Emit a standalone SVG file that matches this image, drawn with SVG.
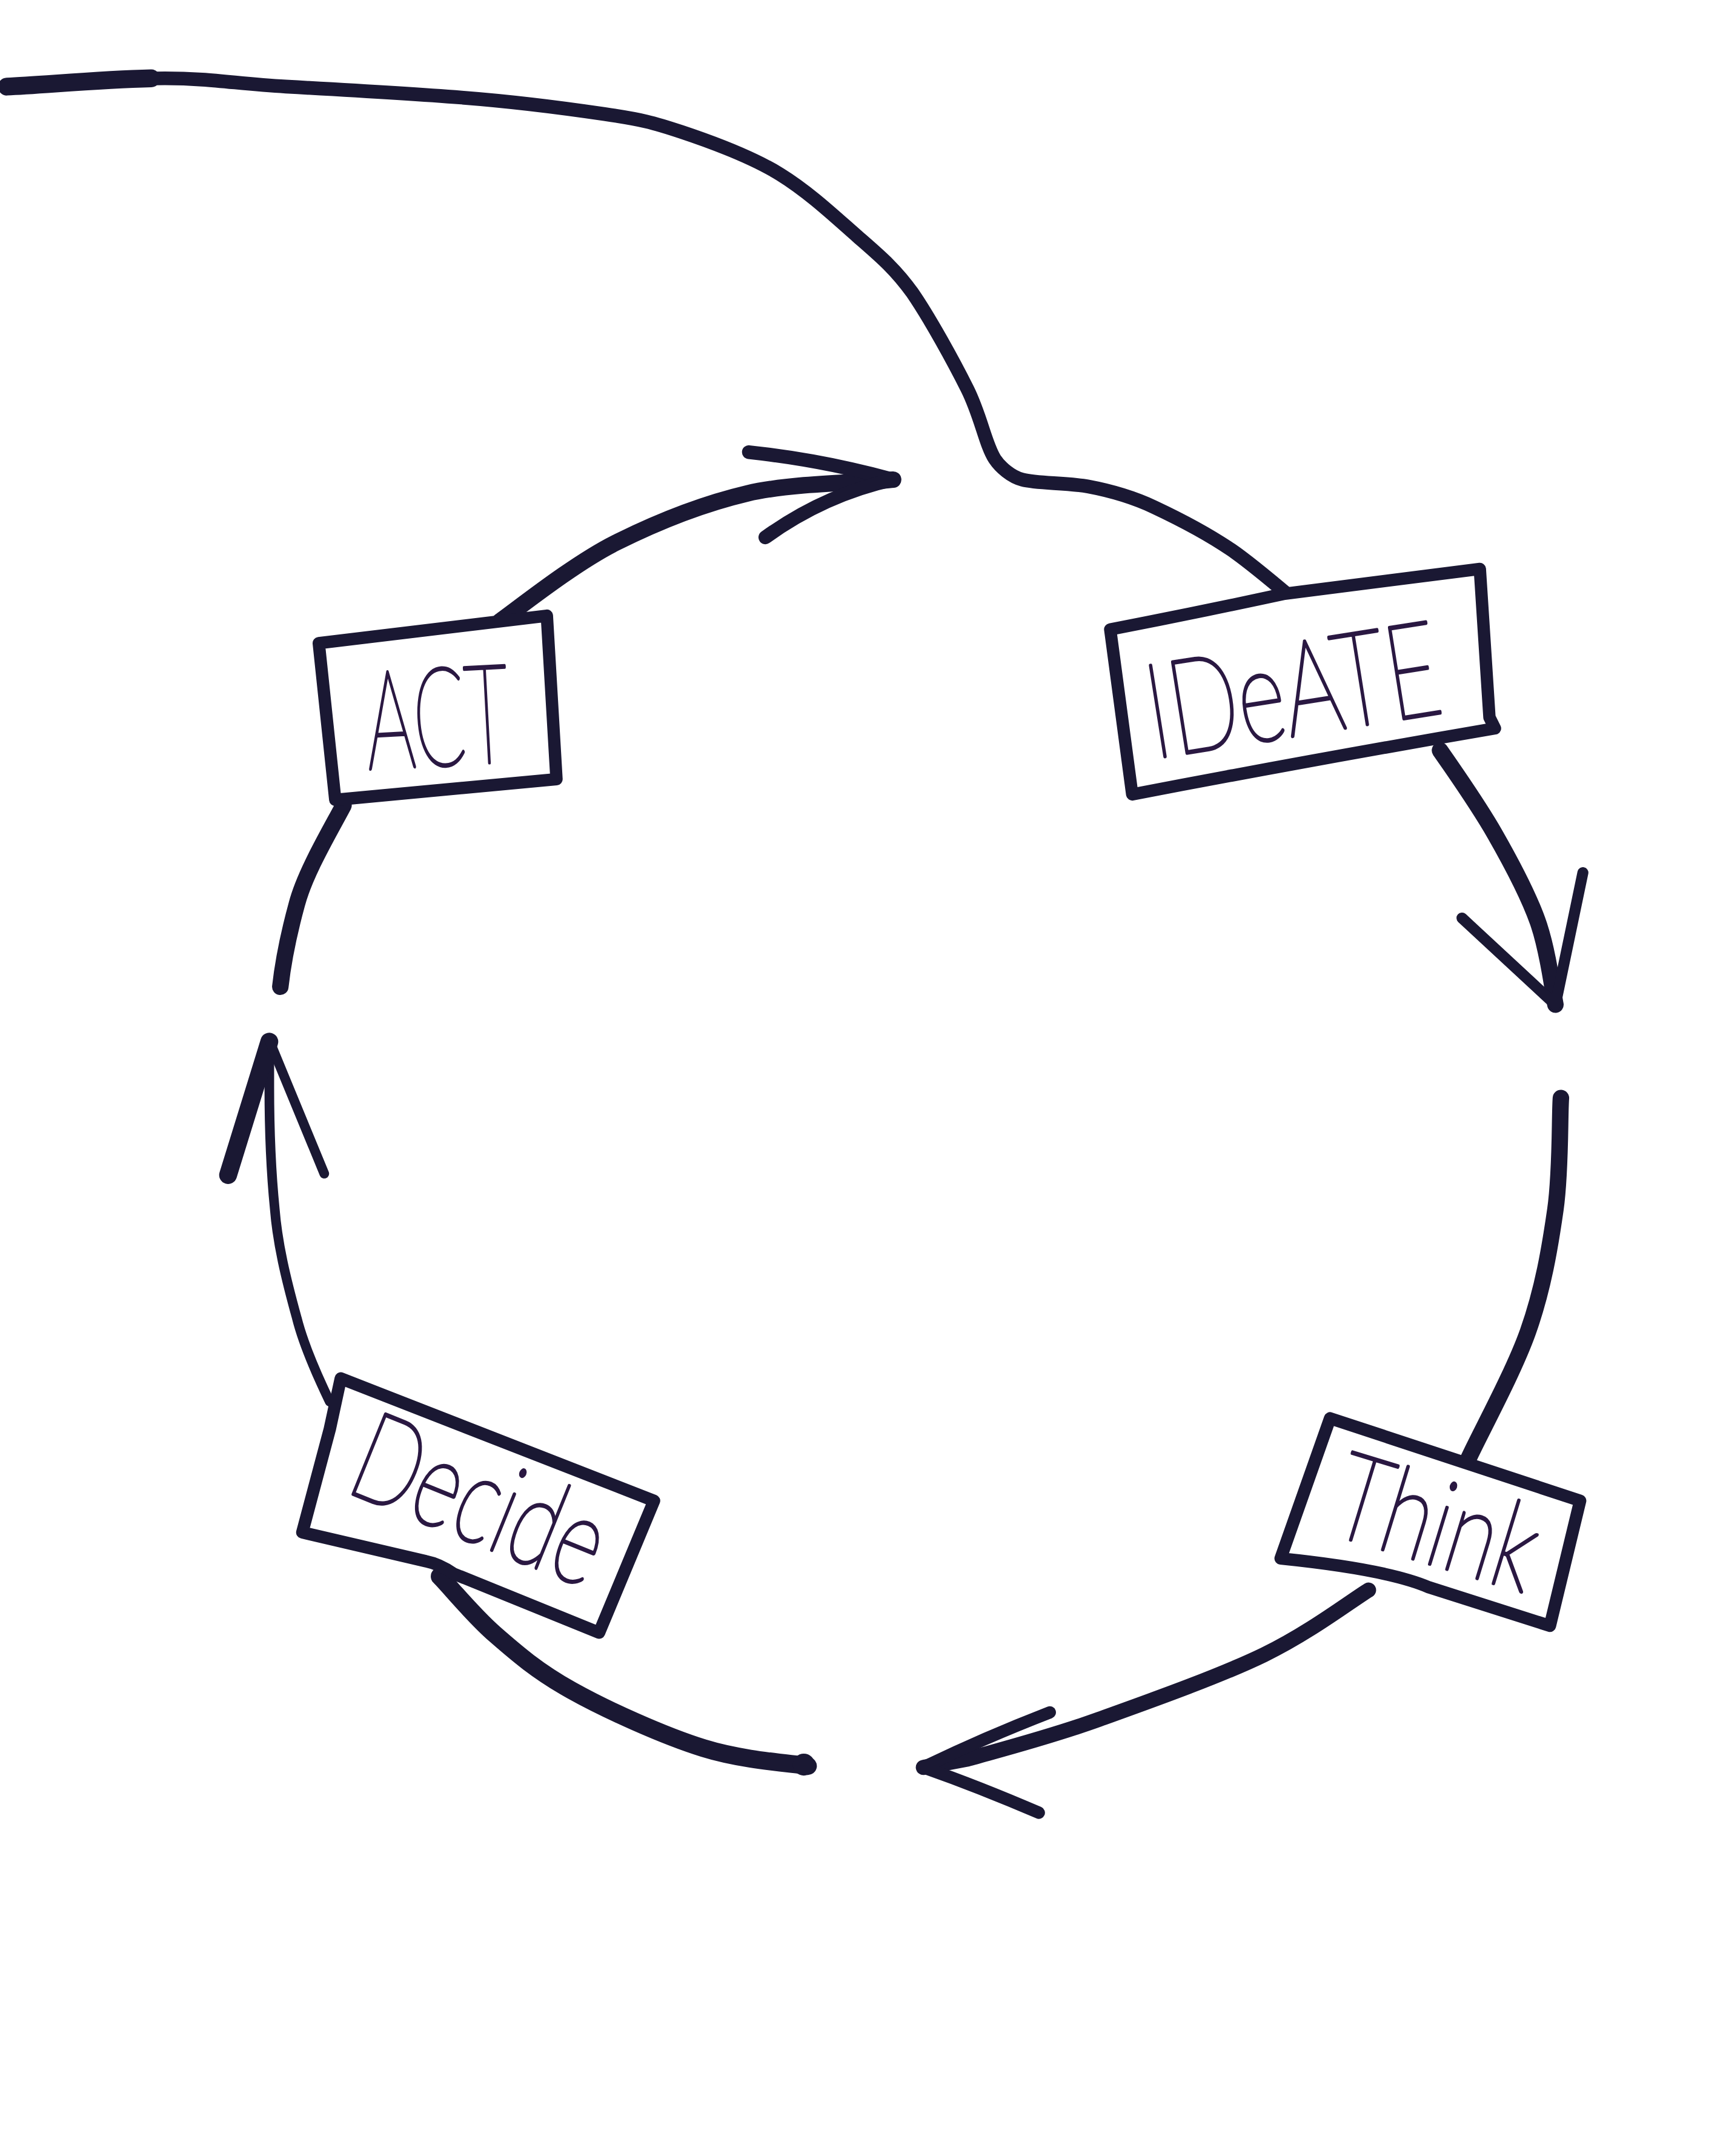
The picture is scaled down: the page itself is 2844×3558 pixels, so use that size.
<svg xmlns="http://www.w3.org/2000/svg" width="2844" height="3558" viewBox="0 0 2844 3558">
<style>
.ln{fill:none;stroke:#1a1833;stroke-linecap:round;stroke-linejoin:round}
.box{fill:#ffffff;stroke:#1a1833;stroke-width:9;stroke-linejoin:round}
.lbl{font-family:Lato,'Open Sans','DejaVu Sans',sans-serif;font-weight:200;fill:#2a1842;stroke:#2a1842;stroke-width:2.4;stroke-linejoin:round;text-anchor:middle}
</style>
<rect x="0" y="0" width="2844" height="3558" fill="#ffffff"/>
<g transform="scale(2.268)">
<g id="connectors">
<path class="ln" stroke-width="10" d="M4,63 C23,62 86,57 120,57 C154,57 172,61 208,63 C244,65 297,68 336,71 C375,74 413,79 440,83 C467,87 475,89 496,96 C517,103 547,114 568,127 C589,140 608,158 624,172 C640,186 651,195 664,213 C677,232 694,263 704,283 C714,303 717,323 724,334 C728,340 736,347 744,349 C755,352 776,351 792,354 C808,357 823,361 840,369 C857,377 877,387 896,400 C915,413 943,438 952,445"/>
<path class="ln" stroke-width="13" d="M5,63 C30,62 70,58 110,57"/>
<path class="ln" stroke-width="12" d="M364,452 C378,442 418,410 448,395 C478,380 510,367 544,359 C578,351 634,351 650,349"/>
<path class="ln" stroke-width="10" d="M545,329 Q600,335 650,349"/>
<path class="ln" stroke-width="10" d="M557,391 Q600,360 650,349"/>
<path class="ln" stroke-width="12" d="M1048,546 C1055,556 1076,586 1088,607 C1100,628 1113,652 1120,673 C1127,694 1130,721 1132,731"/>
<path class="ln" stroke-width="8" d="M1064,668 L1132,731 L1152,635"/>
<path class="ln" stroke-width="12" d="M1136,799 C1135,812 1136,852 1132,880 C1128,908 1123,938 1112,969 C1101,1000 1075,1047 1068,1063"/>
<path class="ln" stroke-width="11" d="M996,1157 C983,1165 953,1188 920,1204 C887,1220 836,1238 800,1251 C764,1264 725,1274 704,1280 L672,1286"/>
<path class="ln" stroke-width="9" d="M764,1246 Q715,1265 672,1286 Q712,1300 756,1319"/>
<path class="ln" stroke-width="13" d="M320,1147 C327,1154 344,1175 360,1189 C376,1203 391,1216 416,1230 C441,1244 483,1263 512,1272 C541,1281 575,1283 588,1285"/>
<circle cx="585" cy="1284" r="8" fill="#1a1833"/>
<path class="ln" stroke-width="7" d="M240,1020 C228,995 220,975 216,959 C208,930 202,905 200,880 C197,850 196,815 196,791 L196,757"/>
<path class="ln" stroke-width="13" d="M166,855 L196,758"/>
<path class="ln" stroke-width="7" d="M236,854 L196,757"/>
<path class="ln" stroke-width="12" d="M250,586 C240,605 222,635 216,658 C210,680 206,700 204,718"/>
</g>
<g id="node-act">
<path class="box" d="M232,468 L398,448 L405,567 L244,582 Z"/>
<text class="lbl" x="320" y="557" font-size="100" textLength="104" lengthAdjust="spacingAndGlyphs" transform="rotate(-3 320 557)">ACT</text>
</g>
<g id="node-ideate">
<path class="box" d="M808,458 Q870,446 935,432 L1077,414 L1084,522 L1088,530 Q960,552 824,578 Z"/>
<text class="lbl" x="946" y="535" font-size="96" textLength="215" lengthAdjust="spacingAndGlyphs" transform="rotate(-9 946 535)">IDeATE</text>
</g>
<g id="node-think">
<path class="box" d="M968,1032 L1150,1092 L1128,1183 L1040,1155 Q1010,1142 932,1134 Z"/>
<text class="lbl" x="1037" y="1137" font-size="88" textLength="150" lengthAdjust="spacingAndGlyphs" transform="rotate(17 1037 1137)">Think</text>
</g>
<g id="node-decide">
<path class="box" d="M248,1003 L476,1092 L436,1188 L330,1145 Q320,1138 310,1136 L220,1115 L240,1040 Z"/>
<text class="lbl" x="338" y="1120" font-size="90" textLength="190" lengthAdjust="spacingAndGlyphs" transform="rotate(22 338 1120)">Decide</text>
</g>
</g>
</svg>
